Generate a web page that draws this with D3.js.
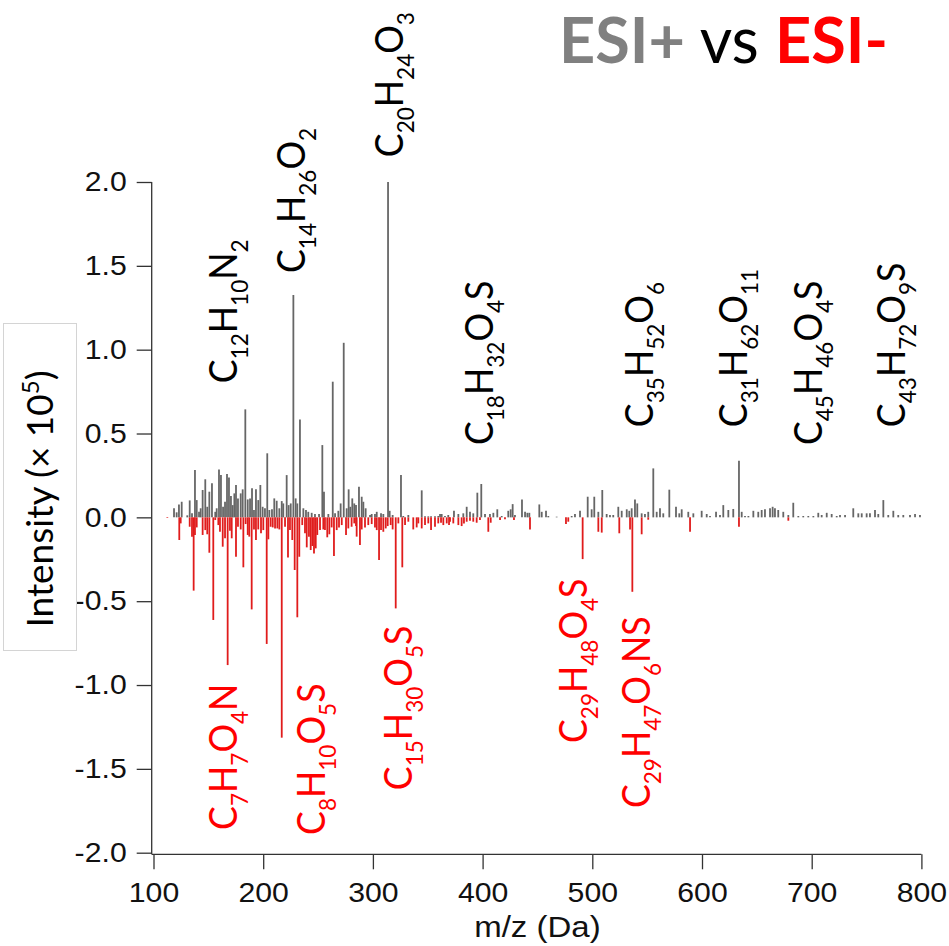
<!DOCTYPE html>
<html>
<head>
<meta charset="utf-8">
<script src="https://cdn.jsdelivr.net/npm/d3@7"></script>
<style>
  body { margin: 0; background: #fff; }
  svg { display: block; }
</style>
</head>
<body>
<svg id="chart" width="949" height="946"></svg>
<script>
// ESI+ peaks: m/z (Da) and intensity (x 10^5)
const posMz = [
  118.7, 121.1, 123.2, 125.7, 130.8, 133.0, 135.1, 137.8, 139.4, 141.5,
  143.0, 144.8, 147.2, 149.0, 150.9, 153.3, 156.3, 157.6, 159.7, 161.5,
  163.4, 165.2, 167.0, 168.8, 170.6, 172.2, 173.7, 175.2, 177.0, 179.5,
  181.3, 183.7, 185.9, 188.0, 189.8, 191.6, 193.4, 195.5, 197.4, 199.5,
  201.6, 203.7, 205.6, 208.0, 210.1, 212.3, 214.7, 216.9, 218.3, 221.4,
  223.2, 225.1, 227.5, 229.6, 231.1, 233.5, 236.6, 239.0, 241.1, 244.2,
  247.2, 250.9, 253.9, 255.4, 259.4, 263.4, 265.5, 268.5, 270.6, 273.4,
  276.1, 277.9, 279.4, 281.2, 283.0, 284.6, 287.3, 289.8, 291.3, 293.4,
  297.4, 298.9, 301.9, 303.5, 307.4, 309.5, 313.8, 315.3, 318.0, 325.6,
  327.7, 332.3, 344.5, 347.5, 350.5, 353.0, 356.6, 359.6, 361.2, 362.7,
  365.7, 368.7, 373.9, 377.9, 382.4, 385.5, 388.5, 391.5, 395.2, 398.8,
  402.2, 406.7, 409.8, 413.4, 417.4, 423.4, 425.6, 427.4, 429.5, 435.9,
  438.7, 440.8, 442.6, 451.7, 453.9, 457.8, 459.9, 467.5, 481.2, 484.2,
  488.8, 495.8, 499.4, 501.8, 505.5, 509.1, 513.1, 516.1, 519.1, 523.7,
  526.8, 531.4, 533.7, 535.9, 538.9, 541.0, 545.0, 548.0, 551.0, 555.6,
  558.7, 561.7, 564.7, 570.2, 576.3, 579.3, 581.5, 587.5, 592.1, 599.7,
  604.3, 607.3, 612.8, 616.4, 619.4, 624.0, 628.5, 633.7, 636.2, 639.2,
  642.3, 646.8, 651.3, 654.4, 657.4, 662.0, 664.4, 666.5, 669.5, 674.1,
  678.7, 683.2, 687.8, 692.3, 696.9, 701.5, 706.0, 709.1, 713.7, 718.2,
  722.8, 725.8, 730.4, 737.9, 742.5, 745.6, 750.1, 753.1, 757.7, 760.7,
  765.3, 769.8, 774.4, 778.9, 783.5, 789.6, 794.2, 798.7
];
const posInt = [
  0.055, 0.030, 0.077, 0.093, 0.012, 0.101, 0.024, 0.282, 0.103, 0.033,
  0.054, 0.163, 0.227, 0.063, 0.153, 0.203, 0.033, 0.054, 0.286, 0.252,
  0.063, 0.093, 0.258, 0.238, 0.127, 0.073, 0.143, 0.193, 0.113, 0.143,
  0.167, 0.644, 0.107, 0.113, 0.173, 0.044, 0.167, 0.103, 0.193, 0.063,
  0.054, 0.382, 0.044, 0.048, 0.113, 0.099, 0.054, 0.097, 0.083, 0.252,
  0.073, 0.083, 1.326, 0.113, 0.083, 0.584, 0.054, 0.044, 0.033, 0.027,
  0.020, 0.020, 0.431, 0.153, 0.020, 0.809, 0.024, 0.039, 0.083, 1.041,
  0.054, 0.167, 0.063, 0.113, 0.083, 0.073, 0.182, 0.123, 0.093, 0.054,
  0.014, 0.020, 0.020, 0.033, 0.024, 0.020, 2.000, 0.039, 0.014, 0.252,
  0.008, 0.014, 0.161, 0.006, 0.006, 0.006, 0.006, 0.008, 0.020, 0.020,
  0.008, 0.014, 0.039, 0.020, 0.024, 0.063, 0.033, 0.024, 0.147, 0.199,
  0.020, 0.020, 0.027, 0.048, 0.008, 0.039, 0.048, 0.079, 0.014, 0.107,
  0.033, 0.027, 0.027, 0.077, 0.033, 0.039, 0.008, 0.004, 0.008, 0.020,
  0.039, 0.123, 0.048, 0.123, 0.033, 0.163, 0.020, 0.014, 0.014, 0.063,
  0.039, 0.048, 0.039, 0.054, 0.107, 0.083, 0.024, 0.020, 0.033, 0.292,
  0.033, 0.054, 0.024, 0.165, 0.063, 0.024, 0.048, 0.033, 0.024, 0.039,
  0.020, 0.008, 0.033, 0.014, 0.073, 0.044, 0.050, 0.337, 0.033, 0.008,
  0.008, 0.039, 0.033, 0.044, 0.048, 0.054, 0.063, 0.054, 0.044, 0.033,
  0.014, 0.087, 0.008, 0.008, 0.008, 0.008, 0.027, 0.014, 0.027, 0.020,
  0.008, 0.014, 0.014, 0.054, 0.024, 0.024, 0.024, 0.024, 0.044, 0.020,
  0.103, 0.014, 0.039, 0.014, 0.014, 0.014, 0.020, 0.014
];

// ESI- peaks: m/z (Da) and intensity (x 10^5), plotted downward
const negMz = [
  112.6, 123.5, 124.8, 133.0, 135.1, 136.6, 137.8, 139.4, 144.8, 147.2,
  149.0, 150.9, 154.5, 156.3, 159.1, 160.6, 163.1, 165.2, 167.6, 169.7,
  171.3, 175.2, 177.0, 179.5, 181.9, 184.0, 185.9, 187.3, 189.5, 191.6,
  193.4, 195.5, 198.0, 200.1, 203.2, 204.7, 206.8, 208.7, 210.8, 212.9,
  214.7, 216.9, 219.9, 222.6, 224.4, 226.5, 228.7, 231.1, 232.9, 235.6,
  238.1, 239.7, 241.7, 243.3, 244.8, 246.3, 247.9, 249.3, 251.8, 254.8,
  256.3, 258.4, 260.3, 262.4, 264.5, 267.0, 269.1, 271.6, 275.5, 277.6,
  280.6, 283.0, 284.6, 285.2, 288.2, 289.8, 292.8, 295.8, 298.9, 301.9,
  303.5, 305.6, 307.4, 309.5, 311.7, 313.5, 316.2, 318.0, 320.8, 323.2,
  326.8, 329.3, 332.3, 336.8, 339.9, 341.4, 344.5, 347.5, 350.5, 353.0,
  356.6, 359.6, 362.1, 364.2, 367.3, 369.4, 370.3, 373.3, 377.9, 380.9,
  383.0, 385.5, 388.5, 391.5, 394.6, 397.6, 405.2, 407.4, 415.9, 420.4,
  428.6, 443.2, 476.0, 478.1, 491.2, 505.5, 508.6, 524.6, 534.4, 536.5,
  545.0, 551.0, 589.1, 633.7, 678.7
];
const negInt = [
  -0.004, -0.135, -0.036, -0.056, -0.115, -0.437, -0.105, -0.060, -0.105, -0.076,
  -0.101, -0.211, -0.612, -0.016, -0.046, -0.086, -0.175, -0.125, -0.881, -0.080,
  -0.125, -0.235, -0.056, -0.072, -0.298, -0.040, -0.105, -0.115, -0.549, -0.072,
  -0.135, -0.072, -0.095, -0.076, -0.755, -0.131, -0.056, -0.060, -0.066, -0.066,
  -0.072, -1.314, -0.056, -0.239, -0.076, -0.135, -0.314, -0.596, -0.235, -0.046,
  -0.095, -0.179, -0.115, -0.195, -0.171, -0.215, -0.185, -0.105, -0.076, -0.072,
  -0.076, -0.119, -0.101, -0.060, -0.231, -0.076, -0.060, -0.046, -0.105, -0.066,
  -0.056, -0.036, -0.052, -0.115, -0.165, -0.072, -0.060, -0.046, -0.040, -0.060,
  -0.076, -0.255, -0.076, -0.086, -0.066, -0.052, -0.046, -0.072, -0.543, -0.036,
  -0.298, -0.046, -0.026, -0.072, -0.060, -0.036, -0.066, -0.046, -0.036, -0.076,
  -0.056, -0.036, -0.032, -0.046, -0.036, -0.046, -0.026, -0.036, -0.046, -0.052,
  -0.036, -0.026, -0.020, -0.026, -0.032, -0.016, -0.086, -0.032, -0.016, -0.012,
  -0.016, -0.072, -0.040, -0.026, -0.249, -0.086, -0.091, -0.095, -0.072, -0.444,
  -0.101, -0.014, -0.086, -0.056, -0.020
];

// Axis ticks
const xTicks = [100, 200, 300, 400, 500, 600, 700, 800];
const yTicks = [-2.0, -1.5, -1.0, -0.5, 0.0, 0.5, 1.0, 1.5, 2.0];

// Assigned formulas, anchored in data units (m/z, intensity) where each label starts
const posFormulas   = ["C12H10N2", "C14H26O2", "C20H24O3", "C18H32O4S", "C35H52O6", "C31H62O11", "C45H46O4S", "C43H72O9S"];
const posFormulaMz  = [176.1, 238.1, 327.4, 409.5, 555.3, 641.0, 709.4, 785.1];
const posFormulaAt  = [0.800, 1.457, 2.148, 0.431, 0.538, 0.538, 0.431, 0.538];
const negFormulas   = ["C7H7O4N", "C8H10O5S", "C15H30O5S", "C29H48O4S", "C29H47O6NS"];
const negFormulaMz  = [176.1, 256.3, 335.6, 495.2, 552.6];
const negFormulaAt  = [-1.864, -1.894, -1.627, -1.346, -1.734];

const svg = d3.select("#chart");

const x = d3.scaleLinear().domain([100, 800]).range([153.5, 921.4]);
const y = d3.scaleLinear().domain([-2, 2]).range([852.7, 182]);

const axisX0 = 151.7;          // y-axis line position
const axisY0 = y(-2) + 1.6;    // x-axis line position
const axisColor = "#333";
const tickFont = "'Liberation Sans', Arial, sans-serif";
const labelFont = "Lato, 'Open Sans', sans-serif";

// ---- stick spectrum ----
const posPeaks = posMz.map((m, i) => ({ m, v: posInt[i] }));
const negPeaks = negMz.map((m, i) => ({ m, v: negInt[i] }));

svg.append("g").selectAll("line").data(posPeaks).join("line")
  .attr("x1", d => x(d.m)).attr("x2", d => x(d.m))
  .attr("y1", y(0)).attr("y2", d => y(d.v))
  .attr("stroke", "#666").attr("stroke-width", 1.8);

svg.append("g").selectAll("line").data(negPeaks).join("line")
  .attr("x1", d => x(d.m)).attr("x2", d => x(d.m))
  .attr("y1", y(0)).attr("y2", d => y(d.v))
  .attr("stroke", "#e01c1c").attr("stroke-width", 1.8);

// ---- axes ----
const yAxis = d3.axisLeft(y).tickValues(yTicks).tickSize(15).tickPadding(10)
  .tickSizeOuter(0).tickFormat(d => d.toFixed(1));
const gy = svg.append("g").attr("transform", `translate(${axisX0},0)`).call(yAxis);
gy.select(".domain").remove();
gy.selectAll(".tick line").attr("stroke", axisColor).attr("stroke-width", 1.3);
gy.selectAll(".tick text")
  .attr("font-family", tickFont).attr("font-size", 27).attr("fill", "#111")
  .attr("transform", "translate(-25,0) scale(1.12,1) translate(25,0)");

const xAxis = d3.axisBottom(x).tickValues(xTicks).tickSize(15).tickPadding(14)
  .tickSizeOuter(0).tickFormat(d3.format("d"));
const gx = svg.append("g").attr("transform", `translate(0,${axisY0})`).call(xAxis);
gx.select(".domain").remove();
gx.selectAll(".tick line").attr("stroke", axisColor).attr("stroke-width", 1.3);
gx.selectAll(".tick text")
  .attr("font-family", tickFont).attr("font-size", 27).attr("fill", "#111")
  .attr("transform", "scale(1.12,1)");

svg.append("line")
  .attr("x1", axisX0).attr("x2", axisX0).attr("y1", y(2)).attr("y2", axisY0)
  .attr("stroke", axisColor).attr("stroke-width", 1.3);
svg.append("line")
  .attr("x1", axisX0).attr("x2", x(800)).attr("y1", axisY0).attr("y2", axisY0)
  .attr("stroke", axisColor).attr("stroke-width", 1.3);

// x-axis title
svg.append("text")
  .attr("transform", `translate(${(x(100) + x(800)) / 2},937) scale(1.1,1)`)
  .attr("text-anchor", "middle")
  .attr("font-family", tickFont).attr("font-size", 30).attr("fill", "#111")
  .text("m/z (Da)");

// y-axis title in its box
svg.append("rect")
  .attr("x", 3.5).attr("y", 323.5).attr("width", 73).attr("height", 327)
  .attr("fill", "#fff").attr("stroke", "#d4d4d4").attr("stroke-width", 1);
const yTitle = svg.append("text")
  .attr("transform", "translate(53,499) rotate(-90)")
  .attr("text-anchor", "middle")
  .attr("font-family", labelFont).attr("font-size", 37).attr("fill", "#000");
yTitle.append("tspan").text("Intensity (\u00d7 10");
yTitle.append("tspan").attr("font-size", 24).attr("dy", -14).text("5");
yTitle.append("tspan").attr("dy", 14).text(")");

// ---- formula labels ----
function formulaLabel(g, formula, mz, at, color) {
  const t = g.append("text")
    .attr("transform", `translate(${x(mz)},${y(at)}) rotate(-90) scale(0.94,1)`)
    .attr("text-anchor", "start")
    .attr("font-family", labelFont).attr("font-size", 38).attr("fill", color);
  const tokens = formula.match(/[A-Z][a-z]?|\d+/g);
  let shifted = false;
  tokens.forEach(tok => {
    const isNum = /^\d+$/.test(tok);
    const ts = t.append("tspan").text(tok);
    if (isNum) {
      ts.attr("font-size", 24);
      if (!shifted) { ts.attr("dy", 11); shifted = true; }
    } else if (shifted) {
      ts.attr("dy", -11); shifted = false;
    }
  });
}
const gLab = svg.append("g");
posFormulas.forEach((f, i) => formulaLabel(gLab, f, posFormulaMz[i], posFormulaAt[i], "#000"));
negFormulas.forEach((f, i) => formulaLabel(gLab, f, negFormulaMz[i], negFormulaAt[i], "#ff0000"));

// ---- title ----
const title = svg.append("text")
  .attr("x", 559).attr("y", 62.5)
  .attr("font-family", labelFont).attr("font-size", 63);
title.append("tspan").attr("font-weight", 700).attr("fill", "#808080").text("ESI+");
title.append("tspan").attr("fill", "#000").text(" vs ");
title.append("tspan").attr("font-weight", 700).attr("fill", "#ff0000").text("ESI-");
</script>
</body>
</html>
